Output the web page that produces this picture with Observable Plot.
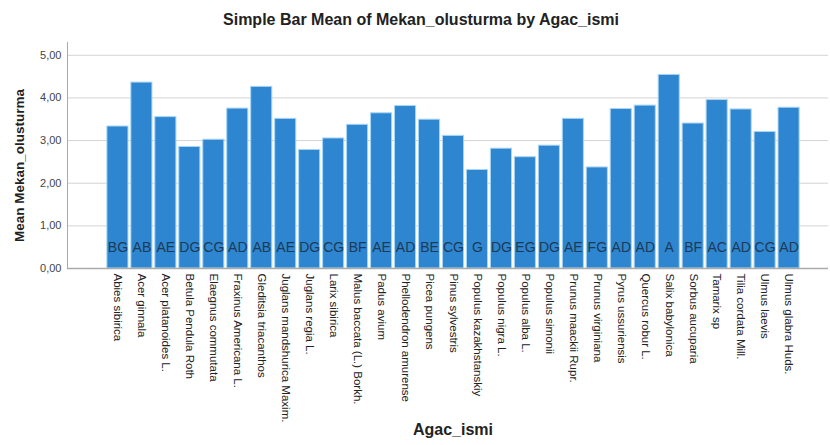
<!DOCTYPE html>
<html>
<head>
<meta charset="utf-8">
<script src="https://cdn.jsdelivr.net/npm/d3@7"></script>
<script src="https://cdn.jsdelivr.net/npm/@observablehq/plot@0.6"></script>
<style>
  body { margin: 0; background: #fff; font-family: "Liberation Sans", Arial, sans-serif; }
  #title { width: 830px; height: 25px; padding-top: 5px; line-height: 30px; text-align: center; font-weight: bold; font-size: 16px; color: #222; text-indent: 12px; white-space: nowrap; overflow: visible; }
</style>
</head>
<body>
<div id="title">Simple Bar Mean of Mekan_olusturma by Agac_ismi</div>
<div id="chart"></div>
<script>
const species = [
  "Abies sibirica", "Acer ginnala", "Acer platanoides L.", "Betula Pendula Roth",
  "Elaegnus commutata", "Fraxinus Americana L.", "Gleditsia triacanthos",
  "Juglans mandshurica Maxim.", "Juglans regia L.", "Larix sibirica",
  "Malus baccata (L.) Borkh.", "Padus avium", "Phellodendron amurense",
  "Picea pungens", "Pinus sylvestris", "Populus kazakhstanskiy", "Populus nigra L.",
  "Populus alba L.", "Populus simonii", "Prunus maackii Rupr.", "Prunus virginiana",
  "Pyrus ussuriensis", "Quercus robur L.", "Salix babylonica", "Sorbus aucuparia",
  "Tamarix sp", "Tilia cordata Mill.", "Ulmus laevis", "Ulmus glabra Huds."
];
const means = [
  3.33, 4.36, 3.55, 2.85, 3.02, 3.75, 4.26, 3.51, 2.78, 3.05,
  3.37, 3.64, 3.81, 3.49, 3.11, 2.31, 2.81, 2.61, 2.88, 3.51,
  2.37, 3.74, 3.82, 4.54, 3.40, 3.95, 3.73, 3.20, 3.77
];
const groups = [
  "BG", "AB", "AE", "DG", "CG", "AD", "AB", "AE", "DG", "CG",
  "BF", "AE", "AD", "BE", "CG", "G", "DG", "EG", "DG", "AE",
  "FG", "AD", "AD", "A", "BF", "AC", "AD", "CG", "AD"
];
const yTicks = [0, 1, 2, 3, 4, 5];

const data = species.map((s, i) => ({name: s, mean: means[i], group: groups[i]}));
const fmt = d => d.toFixed(2).replace(".", ",");

const chart = Plot.plot({
  width: 830,
  height: 415,
  marginTop: 12,
  marginBottom: 177,
  marginLeft: 67,
  marginRight: 2,
  style: {fontFamily: "Liberation Sans, Arial, sans-serif", background: "#fff"},
  x: {domain: species, padding: 0.12, round: false, insetLeft: 37, insetRight: 26},
  y: {domain: [0, 5.3]},
  marks: [
    Plot.gridY(yTicks.filter(d => d > 0), {stroke: "#d4d4d4", strokeOpacity: 1}),
    Plot.barY(data, {x: "name", y: "mean", fill: "#2d86cf", stroke: "#a9d6f5", strokeWidth: 1}),
    Plot.text(data, {x: "name", text: "group", frameAnchor: "bottom", dy: -17, fontSize: 14, fill: "#1f3a57"}),
    Plot.ruleY([0], {stroke: "#aaa", strokeWidth: 1.5}),
    Plot.frame({anchor: "left", stroke: "#aaa"}),
    Plot.axisY({ticks: yTicks, tickFormat: fmt, tickSize: 0, tickPadding: 6, label: null, fontSize: 11, fill: "#444"}),
    Plot.axisX({tickRotate: 90, tickSize: 0, tickPadding: 5, label: null, fontSize: 11.5, fill: "#222"}),
    Plot.text(["Mean Mekan_olusturma"], {frameAnchor: "left", textAnchor: "middle", rotate: -90, dx: -48, dy: 10, fontSize: 13.5, fontWeight: "bold", fill: "#222"}),
    Plot.text(["Agac_ismi"], {frameAnchor: "bottom", dx: 5, dy: 166, fontSize: 16, fontWeight: "bold", fill: "#222"})
  ]
});
document.getElementById("chart").appendChild(chart);
</script>
</body>
</html>
